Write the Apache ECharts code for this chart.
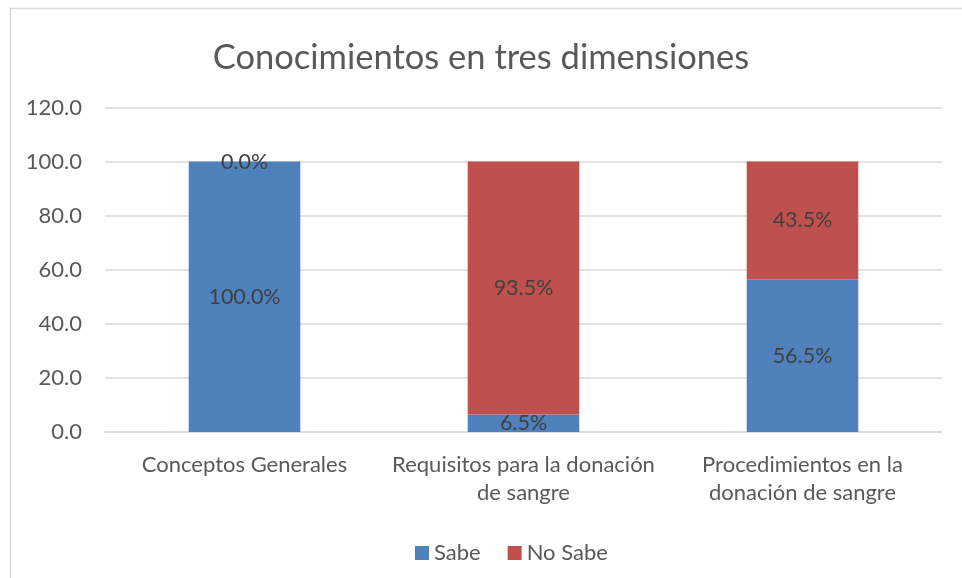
<!DOCTYPE html>
<html>
<head>
<meta charset="utf-8">
<script src="https://cdn.jsdelivr.net/npm/echarts@6/dist/echarts.min.js"></script>
<style>
html,body{margin:0;padding:0;background:#fff;}
#chart{width:962px;height:578px;}
</style>
</head>
<body>
<div id="chart"></div>
<script>
var categories = ['Conceptos Generales', 'Requisitos para la donación\nde sangre', 'Procedimientos en la\ndonación de sangre'];
var sabe = [100.0, 6.5, 56.5];
var noSabe = [0.0, 93.5, 43.5];
var seriesNames = ['Sabe', 'No Sabe'];
var titleText = 'Conocimientos en tres dimensiones';

var FONT = 'Lato, "Open Sans", sans-serif';
var chart = echarts.init(document.getElementById('chart'));
var labelCfg = {
  show: true,
  position: 'inside',
  color: '#404040',
  fontSize: 21.5,
  fontFamily: FONT,
  formatter: function (p) { return p.value.toFixed(1) + '%'; }
};
chart.setOption({
  backgroundColor: '#fff',
  animation: false,
  graphic: [{
    type: 'rect',
    shape: { x: 10.5, y: 8.5, width: 1000, height: 700 },
    style: { fill: 'none', stroke: '#d9d9d9', lineWidth: 1.5 },
    silent: true
  }],
  title: {
    text: titleText,
    left: 'center',
    top: 35,
    textStyle: { color: '#595959', fontSize: 34.5, fontWeight: 'normal', fontFamily: FONT }
  },
  legend: {
    data: seriesNames,
    top: 537,
    left: 410,
    itemWidth: 14,
    itemHeight: 14,
    itemGap: 27,
    icon: 'rect',
    textStyle: { color: '#595959', fontSize: 22, fontFamily: FONT }
  },
  grid: { left: 105, right: 20, top: 107.5, bottom: 146 },
  xAxis: {
    type: 'category',
    data: categories,
    axisLine: { lineStyle: { color: '#d9d9d9', width: 1.5 } },
    axisTick: { show: false },
    axisLabel: { color: '#595959', fontSize: 22, fontFamily: FONT, margin: 19, lineHeight: 28, interval: 0 }
  },
  yAxis: {
    type: 'value',
    min: 0,
    max: 120,
    interval: 20,
    axisLine: { show: false },
    axisTick: { show: false },
    splitLine: { lineStyle: { color: '#d9d9d9', width: 1.5 } },
    axisLabel: { color: '#595959', fontSize: 22, fontFamily: FONT, margin: 23, formatter: function (v) { return v.toFixed(1); } }
  },
  series: [
    { name: seriesNames[0], type: 'bar', stack: 'a', data: sabe, barWidth: '40%', itemStyle: { color: '#4f81bd' }, label: labelCfg },
    { name: seriesNames[1], type: 'bar', stack: 'a', data: noSabe, barWidth: '40%', itemStyle: { color: '#c0504d' }, label: labelCfg }
  ]
});
</script>
</body>
</html>
